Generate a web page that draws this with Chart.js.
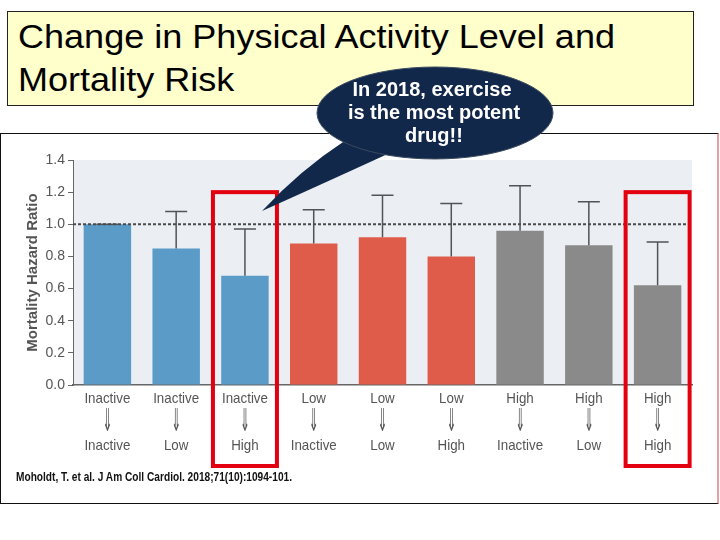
<!DOCTYPE html>
<html>
<head>
<meta charset="utf-8">
<script src="https://cdn.jsdelivr.net/npm/chart.js@4.4.1/dist/chart.umd.min.js"></script>
<style>
  body { margin: 0; background: #fff; }
  #page { position: relative; width: 720px; height: 540px; overflow: hidden; font-family: 'Liberation Sans', Arial, sans-serif; }
  #titlebox { position: absolute; left: 7px; top: 11px; width: 685px; height: 93px; background: #ffffcc; border: 1px solid #222; }
  #titlebox div { position: absolute; left: 10px; font-size: 34px; line-height: 34px; color: #000; white-space: nowrap; transform: scaleX(1.06); transform-origin: 0 0; }
  #frame { position: absolute; left: 0; top: 133px; width: 716px; height: 369px; border: 1.5px solid #111; border-right: 2px solid #e7a0a0; }
  #wrap { position: absolute; left: 0; top: 134px; width: 720px; height: 368px; }
  #bubble { position: absolute; left: 0; top: 0; }
</style>
</head>
<body>
<div id="page">
  <div id="titlebox">
    <div style="top:7px">Change in Physical Activity Level and</div>
    <div style="top:50px">Mortality Risk</div>
  </div>
  <div id="frame"></div>
  <div id="wrap"><canvas id="c" width="720" height="368"></canvas></div>
  <svg id="bubble" width="720" height="540">
    <text x="16" y="481" font-family="'Liberation Sans', sans-serif" font-weight="bold" font-size="12" fill="#111" textLength="276" lengthAdjust="spacingAndGlyphs">Moholdt, T. et al. J Am Coll Cardiol. 2018;71(10):1094-101.</text>
    <path d="M262,211 Q300,170 346,140 L392,152 Q320,185 262,211 Z" fill="#12284a"/>
    <ellipse cx="435" cy="113" rx="118" ry="46" fill="#12284a" stroke="#3a4a60" stroke-width="1"/>
    <g fill="#fff" font-family="'Liberation Sans', sans-serif" font-weight="bold" font-size="20" text-anchor="middle">
      <text x="432" y="96">In 2018, exercise</text>
      <text x="434" y="119">is the most potent</text>
      <text x="434" y="142">drug!!</text>
    </g>
  </svg>
</div>
<script>
// 身体活動レベルの変化と死亡ハザード比
const fromLevel = ['Inactive', 'Inactive', 'Inactive', 'Low', 'Low', 'Low', 'High', 'High', 'High'];
const toLevel = ['Inactive', 'Low', 'High', 'Inactive', 'Low', 'High', 'Inactive', 'Low', 'High'];
const hazard = [1.00, 0.85, 0.68, 0.88, 0.92, 0.80, 0.96, 0.87, 0.62];
const upperCI = [1.00, 1.08, 0.97, 1.09, 1.18, 1.13, 1.24, 1.14, 0.89];
const yTicks = [0, 0.2, 0.4, 0.6, 0.8, 1.0, 1.2, 1.4];
const highlighted = [2, 8];

const barColors = fromLevel.map(l => l === 'Inactive' ? '#5b9bc8' : l === 'Low' ? '#e05c4a' : '#8a8a8a');

const extras = {
  id: 'extras',
  beforeDraw(ch) {
    const a = ch.chartArea, g = ch.ctx;
    g.save(); g.fillStyle = '#ebeff4'; g.fillRect(a.left, a.top, a.right - a.left, a.bottom - a.top); g.restore();
  },
  afterDatasetsDraw(ch) {
    const g = ch.ctx, y = ch.scales.y, a = ch.chartArea;
    const meta = ch.getDatasetMeta(0);
    g.save();
    g.strokeStyle = '#505458'; g.lineWidth = 1.5;
    meta.data.forEach((b, i) => {
      const yt = y.getPixelForValue(upperCI[i]), yb = y.getPixelForValue(hazard[i]);
      g.beginPath(); g.moveTo(b.x, yb); g.lineTo(b.x, yt); g.moveTo(b.x - 11, yt); g.lineTo(b.x + 11, yt); g.stroke();
    });
    // 基準線 1.0
    const y1 = y.getPixelForValue(1.0);
    g.strokeStyle = '#4a4a4a'; g.lineWidth = 2; g.setLineDash([3, 2]);
    g.beginPath(); g.moveTo(a.left, y1); g.lineTo(a.right, y1); g.stroke();
    g.setLineDash([]);
    // カテゴリ名（3段：前 ⇓ 後）
    g.fillStyle = '#555'; g.textAlign = 'center'; g.textBaseline = 'middle';
    fromLevel.forEach((f, i) => {
      const x = ch.scales.x.getPixelForTick(i);
      [[f, 14], [toLevel[i], 61]].forEach(([t, dy]) => {
        g.save(); g.translate(x, a.bottom + dy); g.scale(0.89, 1);
        g.font = "15px 'Liberation Sans', sans-serif"; g.fillText(t, 0, 0); g.restore();
      });
      g.save(); g.translate(x, a.bottom + 38); g.scale(0.78, 2.1);
      g.font = "15px 'DejaVu Sans', sans-serif"; g.fillText('⇓', 0, 0); g.restore();
    });
    // 強調枠
    g.strokeStyle = '#e3000f'; g.lineWidth = 4;
    const top = y.getPixelForValue(1.2);
    highlighted.forEach(i => {
      const x = meta.data[i].x;
      g.strokeRect(x - 32, top, 64, a.bottom + 81 - top);
    });
    g.restore();
  }
};

new Chart(document.getElementById('c'), {
  type: 'bar',
  data: {
    labels: fromLevel.map((f, i) => f + ' → ' + toLevel[i]),
    datasets: [{ data: hazard, backgroundColor: barColors, categoryPercentage: 1, barPercentage: 0.69 }]
  },
  options: {
    responsive: false, animation: false, devicePixelRatio: 1,
    layout: { padding: { left: 0, right: 28, top: 26, bottom: 0 } },
    plugins: { legend: { display: false }, tooltip: { enabled: false } },
    scales: {
      x: {
        afterFit: s => { s.height = 117; },
        grid: { display: false },
        border: { color: '#666', width: 1.5 },
        ticks: { display: false }
      },
      y: {
        min: 0, max: 1.4,
        afterFit: s => { s.width = 73; },
        afterBuildTicks: s => { s.ticks = yTicks.map(v => ({ value: v })); },
        grid: { drawOnChartArea: false, color: '#666', tickLength: 5 },
        border: { color: '#666', width: 1 },
        ticks: { color: '#555', font: { family: "'Liberation Sans', sans-serif", size: 14 }, padding: 3, callback: v => v.toFixed(1) },
        title: { display: true, text: 'Mortality Hazard Ratio', color: '#555', font: { family: "'Liberation Sans', sans-serif", size: 15, weight: 'bold' }, padding: { top: 24 } }
      }
    }
  },
  plugins: [extras]
});
</script>
</body>
</html>
